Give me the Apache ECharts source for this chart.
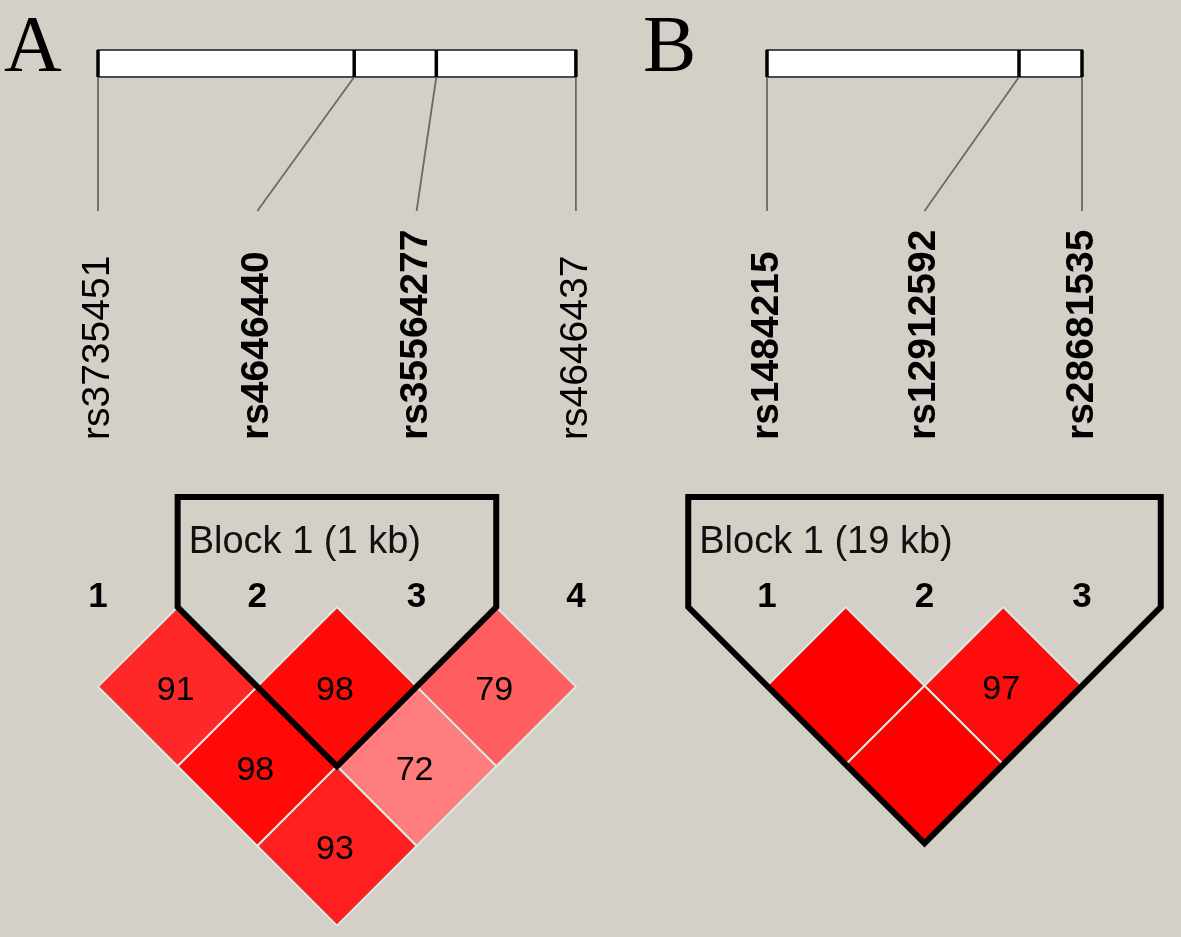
<!DOCTYPE html>
<html><head><meta charset="utf-8">
<script src="https://cdn.jsdelivr.net/npm/echarts@6/dist/echarts.min.js"></script>
<style>html,body{margin:0;padding:0;background:#D4D0C8}#c{width:1181px;height:937px}</style>
</head><body><div id="c"></div>
<script>
// ---------- DATA ----------
// Panel A
const snpNamesA = ['rs3735451', 'rs4646440', 'rs35564277', 'rs4646437'];
const snpBoldA = [false, true, true, false];
const snpPosKbA = [0, 3.12, 4.12, 5.82];           // relative physical positions (kb)
const ldPairsA = [[1, 2, 91], [2, 3, 98], [3, 4, 79], [1, 3, 98], [2, 4, 72], [1, 4, 93]]; // [snpI, snpJ, D'x100]
const blockA = [2, 3];
const blockLabelA = 'Block 1 (1 kb)';
// Panel B
const snpNamesB = ['rs1484215', 'rs12912592', 'rs28681535'];
const snpBoldB = [true, true, true];
const snpPosKbB = [0, 15.2, 19.0];
const ldPairsB = [[1, 2, 100], [2, 3, 97], [1, 3, 100]];
const blockB = [1, 3];
const blockLabelB = 'Block 1 (19 kb)';
const panelLetters = ['A', 'B'];

// ---------- LAYOUT (pixels) ----------
const H = 937, ORIGIN_Y = 607;
const panels = [
  {snp1X: 98, step: 159.3, names: snpNamesA, bold: snpBoldA, pos: snpPosKbA, pairs: ldPairsA, block: blockA, blockLabel: blockLabelA, letterX: 4},
  {snp1X: 767, step: 157.5, names: snpNamesB, bold: snpBoldB, pos: snpPosKbB, pairs: ldPairsB, block: blockB, blockLabel: blockLabelB, letterX: 643}
];
const BAR_TOP = 50, BAR_BOT = 77, CONN_BOT = 211, LABEL_BASE = 440, BLOCK_TOP = 497, NUM_Y = 597;
const FONT = '"Liberation Sans", Arial, sans-serif';

const chart = echarts.init(document.getElementById('c'), null, {renderer: 'canvas'});
const grids = [], xAxes = [], yAxes = [], series = [];

panels.forEach((p, k) => {
  const n = p.names.length;
  grids.push({left: p.snp1X - 0.5 * p.step, width: n * p.step, top: 0, height: H});
  xAxes.push({gridIndex: k, type: 'value', min: 0.5, max: n + 0.5, show: false});
  yAxes.push({gridIndex: k, type: 'value', inverse: true, min: -ORIGIN_Y / p.step, max: (H - ORIGIN_Y) / p.step, show: false});

  // LD diamonds
  series.push({
    type: 'custom', xAxisIndex: k, yAxisIndex: k, z: 2, clip: false, animation: false, silent: true,
    data: p.pairs,
    renderItem: function (params, api) {
      const i = api.value(0), j = api.value(1), v = api.value(2);
      const cx = (i + j) / 2, cy = (j - i) / 2;
      const t = api.coord([cx, cy - 0.5]), r = api.coord([cx + 0.5, cy]),
            b = api.coord([cx, cy + 0.5]), l = api.coord([cx - 0.5, cy]);
      const c = api.coord([cx, cy]);
      return {type: 'group', children: [
        {type: 'polygon', shape: {points: [t, r, b, l]}, style: {fill: api.visual('color'), stroke: '#D6EAE6', lineWidth: 2}},
        {type: 'text', x: c[0] - 2, y: c[1] + 4, style: {text: v < 100 ? String(v) : '', font: '34px ' + FONT, fill: '#000', align: 'center', verticalAlign: 'middle'}}
      ]};
    }
  });

  // Block outline
  series.push({
    type: 'custom', xAxisIndex: k, yAxisIndex: k, z: 5, clip: false, animation: false, silent: true,
    data: [[p.block[0], p.block[1]]],
    renderItem: function (params, api) {
      const a = api.value(0), bb = api.value(1);
      const tl = api.coord([a - 0.5, 0]), tr = api.coord([bb + 0.5, 0]);
      const bot = api.coord([(a + bb) / 2, (bb - a + 1) / 2]);
      const pts = [[tl[0], BLOCK_TOP], [tr[0], BLOCK_TOP], tr, bot, tl];
      return {type: 'group', children: [
        {type: 'polygon', shape: {points: pts}, style: {fill: 'none', stroke: '#000', lineWidth: 6, lineJoin: 'miter'}},
        {type: 'text', x: tl[0] + 11, y: 543, style: {text: p.blockLabel, font: '38px ' + FONT, fill: '#111', align: 'left', verticalAlign: 'middle'}}
      ]};
    }
  });

  // SNP map: bar, connectors, names, numbers
  const pos0 = p.pos[0], posL = p.pos[n - 1];
  series.push({
    type: 'custom', xAxisIndex: k, yAxisIndex: k, z: 3, clip: false, animation: false, silent: true,
    data: p.pos.map((v, idx) => [idx + 1, v]),
    renderItem: function (params, api) {
      const idx = api.value(0), kb = api.value(1);
      const physIdx = 1 + (kb - pos0) / (posL - pos0) * (n - 1);
      const snp = api.coord([idx, 0]);
      const phys = api.coord([physIdx, 0]);
      const children = [];
      if (params.dataIndex === 0) {
        const x0 = api.coord([1, 0])[0], x1 = api.coord([n, 0])[0];
        children.push({type: 'rect', shape: {x: x0, y: BAR_TOP, width: x1 - x0, height: BAR_BOT - BAR_TOP},
          style: {fill: '#FFFFFF', stroke: '#4a4a4a', lineWidth: 2}});
      }
      children.push({type: 'line', shape: {x1: phys[0], y1: BAR_TOP, x2: phys[0], y2: BAR_BOT}, style: {stroke: '#000', lineWidth: 3.5}, z2: 2});
      children.push({type: 'line', shape: {x1: phys[0], y1: BAR_BOT, x2: snp[0], y2: CONN_BOT}, style: {stroke: '#6a6a6a', lineWidth: 1.8}});
      const bold = p.bold[params.dataIndex];
      children.push({type: 'text', x: snp[0], y: LABEL_BASE, rotation: Math.PI / 2,
        style: {text: p.names[params.dataIndex], font: (bold ? 'bold ' : '') + '39px ' + FONT, fill: '#000', align: 'left', verticalAlign: 'middle'}});
      children.push({type: 'text', x: snp[0], y: NUM_Y, style: {text: String(idx), font: 'bold 35px ' + FONT, fill: '#000', align: 'center', verticalAlign: 'middle'}});
      return {type: 'group', children: children};
    }
  });
});

chart.setOption({
  backgroundColor: '#D4D0C8',
  animation: false,
  grid: grids, xAxis: xAxes, yAxis: yAxes,
  visualMap: [{
    show: false, type: 'continuous', seriesIndex: [0, 3], dimension: 2,
    min: 50, max: 100, inRange: {color: ['#FFDFDF', '#FF0000']}
  }],
  graphic: panelLetters.map((t, k) => ({
    type: 'text', left: panels[k].letterX, top: 10,
    style: {text: t, font: '80px "Liberation Serif", "Times New Roman", serif', fill: '#000'}
  })),
  series: series
});
</script>
</body></html>
